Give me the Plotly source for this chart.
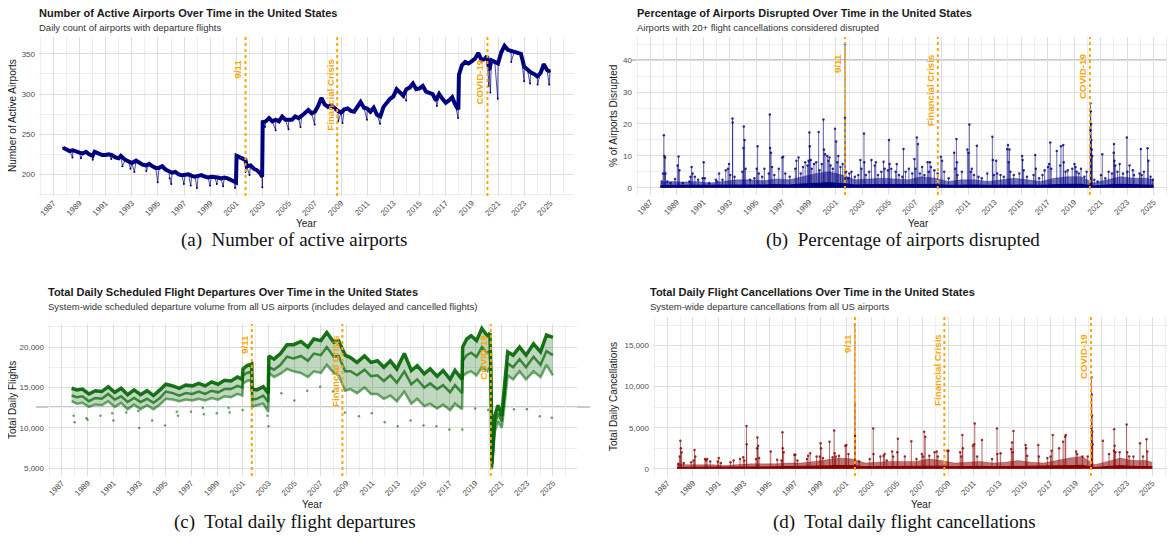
import plotly.graph_objects as go
import pandas as pd

W, H = 1175, 541
OFF = 8                      # default page margin of the browser body
WF, HF = W - OFF, H - OFF    # figure size so that it fills the window

# ---------------- data ----------------
tick_years = list(range(1987, 2026, 2))
event_dates = ["2001-09-11", "2008-09-15", "2020-03-11"]
event_labels = ["9/11", "Financial Crisis", "COVID-19"]

# (a) number of active airports
airport_dates = [
    "1987-10-01",
    "1988-01-01", "1988-04-01", "1988-07-01", "1988-10-01",
    "1989-01-01", "1989-04-01", "1989-07-01", "1989-10-01",
    "1990-01-01", "1990-03-01", "1990-07-01", "1990-10-01",
    "1991-01-01", "1991-04-01", "1991-07-01", "1991-10-01",
    "1992-01-01", "1992-03-01", "1992-07-01", "1992-10-01",
    "1993-01-01", "1993-05-01", "1993-08-01", "1993-11-01",
    "1994-02-01", "1994-05-01", "1994-08-01", "1994-11-01",
    "1995-02-01", "1995-05-01", "1995-08-01", "1995-11-01",
    "1996-02-01", "1996-05-01", "1996-08-01", "1996-11-01",
    "1997-02-01", "1997-05-01", "1997-08-01", "1997-11-01",
    "1998-02-01", "1998-05-01", "1998-08-01", "1998-11-01",
    "1999-02-01", "1999-05-01", "1999-08-01", "1999-11-01",
    "2000-02-01", "2000-05-01", "2000-08-01", "2000-11-01", "2000-12-20",
    "2001-01-05", "2001-04-01", "2001-07-01", "2001-09-10", "2001-10-15",
    "2002-02-01", "2002-05-01", "2002-08-01", "2002-11-01", "2002-12-20",
    "2003-01-05", "2003-04-01", "2003-07-01", "2003-10-01",
    "2004-01-01", "2004-04-01", "2004-07-01", "2004-10-01",
    "2005-01-01", "2005-04-01", "2005-07-01", "2005-10-01",
    "2006-01-01", "2006-04-01", "2006-07-01", "2006-10-01",
    "2007-01-01", "2007-04-01", "2007-07-01", "2007-10-01",
    "2008-01-01", "2008-04-01", "2008-07-01", "2008-10-01",
    "2009-01-01", "2009-04-01", "2009-07-01", "2009-10-01",
    "2010-01-01", "2010-04-01", "2010-07-01", "2010-10-01",
    "2011-01-01", "2011-04-01", "2011-07-01", "2011-10-01",
    "2012-01-01", "2012-04-01", "2012-07-01", "2012-10-01",
    "2013-01-01", "2013-04-01", "2013-07-01", "2013-10-01",
    "2014-01-01", "2014-04-01", "2014-07-01", "2014-10-01",
    "2015-01-01", "2015-04-01", "2015-07-01", "2015-10-01",
    "2016-01-01", "2016-04-01", "2016-07-01", "2016-10-01",
    "2017-01-01", "2017-04-01", "2017-07-01", "2017-10-01", "2017-12-20",
    "2018-01-05", "2018-04-01", "2018-07-01", "2018-10-01",
    "2019-01-01", "2019-04-01", "2019-07-01", "2019-10-01",
    "2020-01-01", "2020-03-01", "2020-05-01", "2020-07-01", "2020-10-01",
    "2021-01-01", "2021-04-01", "2021-07-01", "2021-10-01",
    "2022-01-01", "2022-04-01", "2022-07-01", "2022-10-01",
    "2023-01-01", "2023-04-01", "2023-07-01", "2023-10-01",
    "2024-01-01", "2024-04-01", "2024-07-01", "2024-10-01", "2024-12-20",
]
airport_counts = [
    233,
    231, 229, 230, 228,
    227, 226, 228, 225,
    223, 228, 226, 224,
    224, 225, 224, 221,
    220, 223, 218, 216,
    214, 217, 214, 212,
    211, 213, 210, 208,
    208, 210, 206, 204,
    202, 203, 200, 199,
    199, 200, 198, 197,
    198, 199, 197, 196,
    197, 197, 196, 195,
    196, 195, 193, 191, 190,
    223, 221, 219, 218, 210,
    211, 207, 205, 201, 197,
    265, 266, 270, 266,
    268, 266, 272, 268,
    268, 268, 272, 270,
    273, 276, 280, 276,
    278, 285, 295, 287,
    284, 286, 282, 279,
    277, 281, 282, 279,
    278, 284, 290, 283,
    282, 278, 283, 274,
    272, 284, 290, 294,
    297, 306, 302, 298,
    306, 308, 313, 306,
    307, 310, 303, 301,
    300, 292, 300, 294,
    289, 292, 296, 286, 281,
    324, 336, 340, 338,
    341, 344, 351, 342,
    344, 347, 330, 342, 340,
    338, 352, 360, 355,
    354, 353, 352, 350,
    334, 330, 327, 325,
    322, 326, 337, 330, 328,
]
airport_dip_dates = [
    "1988-06-20", "1989-02-10", "1990-01-05", "1991-06-10", "1992-04-15",
    "1992-11-25", "1993-03-15", "1994-02-10", "1994-12-25", "1995-11-25",
    "1996-01-08", "1996-12-25", "1997-07-04", "1997-12-25", "1998-12-25",
    "1999-07-04", "1999-12-25", "2000-11-23", "2001-09-14", "2002-01-01",
    "2002-12-25", "2003-03-10", "2004-01-01", "2004-12-25", "2005-11-24",
    "2006-12-25", "2008-10-15", "2009-02-10", "2010-12-25", "2011-12-25",
    "2013-12-25", "2016-05-01", "2017-12-12", "2020-04-15", "2020-06-01",
    "2020-12-25", "2022-01-05", "2023-01-01", "2023-06-15", "2024-01-10",
    "2024-11-28",
]
airport_dip_values = [
    221, 220, 218, 219, 210,
    207, 203, 204, 190, 195,
    188, 188, 186, 183, 186,
    188, 185, 183, 203, 199,
    184, 259, 255, 256, 259,
    262, 266, 264, 268, 263,
    292, 285, 270, 310, 302,
    294, 340, 316, 313, 312,
    312,
]

# (b) percentage of airports disrupted
band_dates = ["1987-10-01"] + [f"{y}-07-01" for y in range(1988, 2025)] + ["2024-12-31"]
disrupt_band_solid = [0.6, 0.8, 0.8, 0.8, 0.7, 0.8, 0.9, 0.9, 0.9, 1.0, 0.9, 1.2, 1.5,
                      1.6, 1.3, 0.9, 1.0, 1.0, 1.0, 0.9, 1.1, 1.0, 0.8, 0.9, 0.9, 0.8,
                      0.9, 1.0, 0.9, 0.8, 1.0, 1.1, 1.1, 0.6, 0.9, 1.1, 1.0, 1.0, 0.8]
disrupt_band_upper = [1.5, 2.0, 1.8, 2.0, 1.5, 2.0, 2.5, 2.5, 2.2, 2.8, 2.5, 3.5, 4.5,
                      5.0, 4.0, 2.5, 2.8, 3.0, 2.8, 2.5, 3.5, 3.0, 2.0, 2.5, 2.5, 2.0,
                      2.5, 3.0, 2.5, 2.0, 3.0, 3.5, 3.5, 1.5, 2.5, 3.5, 3.0, 3.0, 2.5]
disrupt_spike_dates = [
    "1987-11-10", "1987-12-15",
    "1988-01-07", "1988-01-20", "1988-02-10", "1988-02-20", "1988-04-10", "1988-07-10", "1988-11-10",
    "1989-01-20", "1989-02-15", "1989-03-10", "1989-06-10", "1989-12-10",
    "1990-01-10", "1990-02-10", "1990-03-10", "1990-05-10", "1990-08-10", "1990-12-10",
    "1991-01-10", "1991-02-10", "1991-06-10", "1991-12-10",
    "1992-01-10", "1992-03-10", "1992-06-10", "1992-09-10", "1992-11-10", "1992-12-10",
    "1993-01-10", "1993-03-13", "1993-03-20", "1993-05-10", "1993-12-10",
    "1994-01-10", "1994-01-20", "1994-02-10", "1994-03-10", "1994-07-10", "1994-11-10",
    "1995-01-10", "1995-02-05", "1995-03-10", "1995-06-10", "1995-08-10", "1995-12-10",
    "1996-01-07", "1996-01-15", "1996-02-10", "1996-03-10", "1996-05-10", "1996-09-10", "1996-12-10",
    "1997-01-10", "1997-03-10", "1997-07-10", "1997-12-10",
    "1998-01-10", "1998-03-10", "1998-05-10", "1998-07-10", "1998-09-10", "1998-11-10", "1998-12-10",
    "1999-01-03", "1999-01-14", "1999-02-10", "1999-03-10", "1999-05-10", "1999-07-10", "1999-09-15", "1999-10-10", "1999-12-10",
    "2000-01-25", "2000-02-10", "2000-03-10", "2000-05-10", "2000-06-10", "2000-07-10", "2000-08-10", "2000-10-10", "2000-12-10",
    "2001-01-10", "2001-02-10", "2001-03-10", "2001-05-10", "2001-07-10", "2001-09-11", "2001-09-13", "2001-10-10", "2001-12-10",
    "2002-01-10", "2002-03-10", "2002-06-10", "2002-09-10", "2002-11-10", "2002-12-10",
    "2003-02-17", "2003-02-25", "2003-04-10", "2003-07-10", "2003-09-10", "2003-12-10",
    "2004-01-10", "2004-03-10", "2004-06-10", "2004-08-10", "2004-09-10", "2004-12-10",
    "2005-01-05", "2005-01-23", "2005-03-10", "2005-07-10", "2005-08-10", "2005-10-10",
    "2006-01-10", "2006-02-12", "2006-04-10", "2006-07-10", "2006-10-10", "2006-12-10",
    "2007-01-10", "2007-02-14", "2007-03-16", "2007-05-10", "2007-07-10", "2007-09-10", "2007-12-10",
    "2008-01-10", "2008-02-10", "2008-03-10", "2008-06-10", "2008-09-10", "2008-12-10",
    "2009-01-10", "2009-03-10", "2009-07-10", "2009-12-10",
    "2010-01-10", "2010-02-10", "2010-02-25", "2010-03-10", "2010-07-10", "2010-12-10",
    "2011-01-12", "2011-02-02", "2011-03-10", "2011-04-10", "2011-06-10", "2011-08-28", "2011-10-10",
    "2012-01-10", "2012-06-10", "2012-10-29", "2012-11-10", "2012-12-10",
    "2013-02-10", "2013-03-10", "2013-06-10", "2013-09-10", "2013-12-10",
    "2014-01-03", "2014-01-22", "2014-02-13", "2014-03-10", "2014-06-10", "2014-11-10",
    "2015-01-27", "2015-02-10", "2015-03-10", "2015-06-10", "2015-12-10",
    "2016-01-23", "2016-02-10", "2016-05-10", "2016-08-10", "2016-10-10",
    "2017-01-10", "2017-02-10", "2017-03-14", "2017-04-10", "2017-09-10", "2017-12-10",
    "2018-01-04", "2018-03-07", "2018-03-21", "2018-05-10", "2018-07-10", "2018-11-10",
    "2019-01-10", "2019-02-10", "2019-03-10", "2019-05-10", "2019-07-10", "2019-10-10", "2019-12-10",
    "2020-03-20", "2020-03-28", "2020-04-05", "2020-04-12", "2020-04-20", "2020-05-01", "2020-05-15", "2020-07-10", "2020-10-10",
    "2021-01-10", "2021-02-16", "2021-05-10", "2021-08-10", "2021-11-10", "2021-12-27",
    "2022-01-05", "2022-01-17", "2022-02-10", "2022-04-10", "2022-06-10", "2022-09-10", "2022-12-26",
    "2023-01-10", "2023-03-10", "2023-06-10", "2023-07-10", "2023-12-10",
    "2024-01-15", "2024-02-10", "2024-04-10", "2024-07-19", "2024-08-10", "2024-10-10", "2024-12-10",
]
disrupt_spike_values = [
    2.0, 4.5,
    16.5, 10.0, 9.5, 4.5, 2.0, 1.5, 2.8,
    7.0, 9.8, 5.5, 1.5, 2.0,
    3.5, 6.5, 4.5, 3.5, 2.5, 3.0,
    8.0, 3.0, 1.5, 2.5,
    2.0, 4.5, 2.5, 5.5, 6.0, 7.5,
    4.0, 21.7, 20.5, 3.5, 5.0,
    12.5, 19.2, 15.0, 6.0, 2.5, 3.0,
    6.0, 13.0, 4.5, 3.5, 6.0, 4.5,
    23.0, 12.5, 11.0, 6.5, 4.0, 6.0, 9.5,
    9.7, 4.5, 3.5, 6.0,
    8.5, 9.5, 4.5, 6.5, 8.0, 7.0, 8.5,
    17.3, 13.0, 8.7, 6.0, 7.5, 8.0, 17.5, 5.5, 7.5,
    21.4, 12.0, 10.5, 10.0, 8.5, 9.5, 7.0, 6.0, 18.5,
    14.5, 8.0, 10.0, 6.5, 7.5, 45.0, 22.0, 5.0, 3.0,
    4.5, 5.0, 3.5, 4.0, 8.7, 6.0,
    17.0, 8.0, 4.0, 5.0, 8.7, 7.0,
    8.0, 4.0, 5.0, 8.2, 6.0, 5.5,
    15.0, 7.5, 6.0, 5.0, 7.5, 4.0,
    3.5, 12.2, 5.0, 6.0, 4.5, 9.0,
    6.0, 15.8, 13.7, 4.5, 6.5, 4.0, 8.0,
    5.0, 8.0, 6.5, 5.5, 4.5, 9.7,
    8.5, 5.0, 3.0, 11.0,
    6.0, 15.3, 8.0, 4.0, 5.0, 12.0,
    11.0, 19.8, 5.0, 6.0, 4.0, 13.2, 3.5,
    3.0, 4.5, 16.0, 8.7, 4.0,
    8.5, 4.5, 4.0, 3.5, 12.2,
    13.4, 8.0, 12.0, 5.0, 4.0, 4.5,
    10.0, 8.7, 5.5, 3.5, 4.0,
    10.3, 6.0, 3.0, 4.0, 5.5,
    6.5, 7.5, 14.2, 6.0, 11.5, 7.0,
    13.0, 13.4, 8.0, 5.0, 5.5, 6.0,
    7.5, 6.5, 5.0, 4.5, 6.0, 3.5, 5.0,
    18.0, 26.5, 24.0, 20.0, 15.0, 12.0, 10.0, 2.5, 2.0,
    4.0, 10.5, 3.0, 5.0, 4.5, 11.0,
    13.7, 8.5, 7.0, 5.0, 7.5, 4.5, 15.8,
    5.0, 7.0, 5.5, 4.0, 4.5,
    12.2, 4.0, 5.0, 12.4, 8.5, 3.5, 2.5,
]

# (c) total daily scheduled departures: weekday band, mid band, weekend band
dep_dates = [
    "1987-10-01", "1988-03-01", "1988-08-01", "1989-02-01", "1989-08-01",
    "1990-02-01", "1990-08-01", "1991-02-01", "1991-08-01", "1992-02-01",
    "1992-08-01", "1993-02-01", "1993-08-01", "1994-02-01", "1994-08-01",
    "1995-01-15", "1995-08-01", "1996-02-01", "1996-08-01", "1997-02-01",
    "1997-08-01", "1998-02-01", "1998-08-01", "1999-02-01", "1999-08-01",
    "2000-02-01", "2000-08-01", "2000-12-15", "2001-01-05", "2001-05-01",
    "2001-09-10", "2001-09-20", "2002-02-01", "2002-08-01", "2002-12-20",
    "2003-01-05", "2003-06-01", "2003-12-01", "2004-06-01", "2004-12-01",
    "2005-07-01", "2006-01-15", "2006-07-01", "2007-01-15", "2007-07-01",
    "2008-01-15", "2008-06-01", "2008-12-01", "2009-05-01", "2009-11-01",
    "2010-06-01", "2010-12-01", "2011-06-01", "2011-12-01", "2012-06-01",
    "2012-12-01", "2013-07-01", "2014-01-15", "2014-07-01", "2015-01-15",
    "2015-07-01", "2016-01-15", "2016-07-01", "2017-01-15", "2017-06-01",
    "2017-12-20", "2018-01-05", "2018-05-01", "2018-09-01", "2019-02-01",
    "2019-07-01", "2019-12-01", "2020-02-15", "2020-03-15", "2020-04-10",
    "2020-05-10", "2020-07-01", "2020-10-01", "2021-01-15", "2021-04-01",
    "2021-07-01", "2021-12-01", "2022-06-01", "2022-12-01", "2023-07-01",
    "2024-01-15", "2024-07-01", "2024-12-31",
]
dep_weekday = [
    14900, 14700, 14800, 14200, 14600,
    14500, 15100, 14400, 14900, 14100,
    14700, 14100, 14600, 14000, 14700,
    15400, 15200, 14900, 15300, 15200,
    15500, 15200, 15700, 15400, 15900,
    15800, 16300, 16000, 17300, 17700,
    17900, 14800, 14700, 15100, 14300,
    18900, 18500, 19200, 20300, 20300,
    20700, 20000, 21000, 20800, 21800,
    20600, 20800, 19000, 18700, 18100,
    18900, 18100, 18300, 17500, 18300,
    17300, 19200, 17100, 17700, 16700,
    17300, 16400, 17100, 16000, 17100,
    16000, 20000, 21000, 21400, 20800,
    22300, 21400, 21700, 17000, 5500,
    7800, 11500, 12800, 11500, 15200,
    19400, 19000, 20000, 19000, 20400,
    19400, 21500, 21200,
]
dep_mid = [
    14000, 13800, 13900, 13300, 13700,
    13600, 14200, 13500, 13900, 13200,
    13700, 13200, 13600, 13100, 13700,
    14500, 14300, 14000, 14300, 14200,
    14500, 14200, 14600, 14400, 14800,
    14800, 15200, 15000, 16500, 16800,
    17000, 13500, 13600, 14000, 13200,
    17500, 17200, 17800, 18800, 18600,
    18900, 18300, 19200, 19000, 20000,
    18800, 18900, 17000, 17000, 16500,
    17200, 16400, 16500, 15800, 16500,
    15600, 17000, 15400, 16000, 15000,
    15500, 14800, 15300, 14400, 15300,
    14300, 18300, 19000, 19300, 18800,
    20000, 19300, 19500, 15000, 5000,
    7000, 10500, 11800, 10800, 14000,
    18000, 17500, 18500, 17500, 18800,
    17800, 19500, 19000,
]
dep_weekend = [
    13300, 13000, 13100, 12600, 12900,
    12800, 13300, 12600, 13100, 12300,
    12900, 12300, 12800, 12300, 12900,
    13600, 13500, 13300, 13500, 13400,
    13600, 13400, 13700, 13500, 13900,
    13800, 14200, 14000, 15500, 15800,
    16000, 12600, 12800, 13000, 12000,
    16800, 16300, 16700, 17300, 17000,
    16800, 16300, 17000, 16800, 17800,
    16800, 16500, 14600, 14800, 14300,
    15000, 14200, 14200, 13600, 14000,
    13300, 14500, 13000, 13600, 12700,
    13000, 12400, 12900, 12200, 13000,
    12300, 16400, 16800, 17000, 16500,
    17500, 17000, 17500, 13000, 4900,
    6500, 9500, 10800, 10000, 12800,
    16500, 16000, 17000, 16000, 17000,
    16300, 17800, 16500,
]
dep_outlier_dates = [
    "1987-11-26", "1987-12-25", "1988-11-24", "1988-12-25", "1989-12-25",
    "1990-11-22", "1990-12-25", "1991-12-25", "1992-11-26", "1992-12-25",
    "1993-12-25", "1994-12-25", "1995-11-23", "1995-12-25", "1996-12-25",
    "1997-11-27", "1997-12-25", "1998-12-25", "1999-11-25", "1999-12-25",
    "2000-12-25", "2001-09-12", "2001-09-14", "2002-11-28", "2002-12-25",
    "2003-12-25", "2004-12-25", "2005-12-25", "2006-12-25", "2007-12-25",
    "2008-11-27", "2009-12-25", "2010-12-25", "2011-12-25", "2012-12-25",
    "2013-12-25", "2014-12-25", "2015-12-25", "2016-12-25", "2017-12-25",
    "2018-12-25", "2019-12-25", "2021-12-25", "2022-12-25", "2023-12-25",
    "2024-11-28",
]
dep_outlier_values = [
    11500, 10700, 11200, 11000, 11500,
    11800, 10900, 11900, 12100, 10000,
    10900, 10300, 12000, 11500, 12000,
    12500, 11700, 11800, 12500, 11900,
    12200, 10200, 11000, 11500, 10200,
    14300, 13400, 14600, 15100, 14500,
    11900, 11450, 11800, 10700, 10200,
    10900, 10300, 10200, 9800, 9800,
    12400, 12200, 12300, 12300, 11450,
    11250,
]

# (d) total daily cancellations
cancel_band_solid = [150, 200, 200, 200, 180, 200, 220, 220, 230, 250, 250, 300, 350,
                     400, 380, 260, 280, 300, 300, 300, 350, 320, 250, 280, 300, 250,
                     270, 300, 270, 250, 300, 380, 420, 150, 280, 380, 300, 300, 250]
cancel_band_upper = [600, 500, 500, 500, 400, 500, 600, 600, 600, 700, 700, 900, 1100,
                     1300, 1200, 700, 800, 900, 900, 900, 1200, 1000, 700, 800, 900, 700,
                     800, 1000, 800, 700, 1000, 1300, 1500, 500, 900, 1300, 1000, 1000, 800]
cancel_spike_dates = [
    "1987-11-10", "1987-12-15",
    "1988-01-07", "1988-01-20", "1988-02-10", "1988-04-10", "1988-11-10",
    "1989-01-20", "1989-02-15", "1989-03-10", "1989-12-10",
    "1990-01-10", "1990-02-10", "1990-05-10", "1990-12-10",
    "1991-01-10", "1991-03-10", "1991-12-10",
    "1992-03-10", "1992-09-10", "1992-12-10",
    "1993-01-10", "1993-03-13", "1993-03-20", "1993-12-10",
    "1994-01-10", "1994-01-20", "1994-02-10", "1994-03-10",
    "1995-02-05", "1995-08-10", "1995-12-10",
    "1996-01-07", "1996-01-15", "1996-02-10", "1996-12-10",
    "1997-01-10", "1997-03-10", "1997-12-10",
    "1998-01-10", "1998-03-10", "1998-09-10", "1998-12-10",
    "1999-01-03", "1999-01-14", "1999-03-10", "1999-09-15", "1999-12-10",
    "2000-01-25", "2000-02-10", "2000-03-10", "2000-06-10", "2000-12-10",
    "2001-01-10", "2001-03-10", "2001-09-11", "2001-09-13", "2001-09-15",
    "2002-01-10", "2002-11-10",
    "2003-02-17", "2003-02-25", "2003-09-10", "2003-12-10",
    "2004-01-10", "2004-03-10", "2004-08-10", "2004-09-10",
    "2005-01-05", "2005-01-23", "2005-08-10",
    "2006-02-12", "2006-07-10", "2006-12-10",
    "2007-01-10", "2007-02-14", "2007-03-16", "2007-07-10", "2007-12-10",
    "2008-02-10", "2008-03-10", "2008-12-10",
    "2009-01-10", "2009-12-10",
    "2010-01-10", "2010-02-10", "2010-02-25", "2010-12-10",
    "2011-01-12", "2011-02-02", "2011-04-10", "2011-08-28",
    "2012-06-10", "2012-10-29", "2012-11-10",
    "2013-02-10", "2013-12-10",
    "2014-01-03", "2014-01-22", "2014-02-13",
    "2015-01-27", "2015-02-10", "2015-03-10",
    "2016-01-23", "2016-02-10", "2016-10-10",
    "2017-01-10", "2017-02-10", "2017-03-14", "2017-09-10",
    "2018-01-04", "2018-03-02", "2018-03-21",
    "2019-01-10", "2019-02-10", "2019-07-10", "2019-12-10",
    "2020-03-20", "2020-03-28", "2020-04-05", "2020-04-12", "2020-04-20", "2020-05-01",
    "2021-02-16", "2021-08-10", "2021-12-27",
    "2022-01-05", "2022-01-17", "2022-02-10", "2022-06-10", "2022-12-26",
    "2023-01-10", "2023-03-10", "2023-07-10",
    "2024-01-15", "2024-04-10", "2024-07-19", "2024-08-10",
]
cancel_spike_values = [
    600, 1500,
    3400, 2500, 2000, 700, 800,
    1000, 2300, 1500, 1200,
    1000, 1200, 900, 900,
    1300, 700, 800,
    1000, 1200, 1400,
    1000, 5200, 3000, 1200,
    2500, 3800, 2800, 1300,
    2100, 1100, 1000,
    4450, 2500, 2000, 1700,
    1700, 1000, 1200,
    1600, 1900, 1500, 1500,
    3100, 2500, 1300, 3300, 1400,
    4650, 1900, 1500, 1600, 2800,
    2900, 1800, 17500, 8000, 4000,
    900, 1200,
    4900, 1800, 1500, 1600,
    1800, 1000, 2100, 1500,
    2000, 3650, 1500,
    3350, 1200, 1800,
    1500, 4500, 3900, 1600, 2000,
    2100, 1500, 2200,
    2200, 2000,
    1500, 4100, 2500, 2800,
    3000, 5500, 1500, 3500,
    1200, 4900, 1800,
    1900, 2400,
    3200, 2000, 4600,
    2900, 2500, 1600,
    2900, 1500, 1300,
    1500, 2200, 4100, 2500,
    3300, 3900, 4100,
    2100, 1800, 1500, 1500,
    5000, 11100, 9000, 6500, 4500, 3000,
    3400, 1800, 2200,
    4800, 2800, 2000, 2000, 5400,
    2000, 1500, 1500,
    3100, 1500, 3600, 2100,
]

# ---------------- layout geometry (window pixels) ----------------
panels = {
    "a": dict(x0=39, x1=574, y0=37, y1=196, xr=(1985.907, 2026.81), yr=(173, 371)),
    "b": dict(x0=636, x1=1175, y0=37, y1=195, xr=(1985.91, 2026.62), yr=(-2.25, 47.25)),
    "c": dict(x0=48, x1=577, y0=324, y1=476, xr=(1985.92, 2026.86), yr=(4045, 22855)),
    "d": dict(x0=653, x1=1175, y0=317, y1=476, xr=(1985.87, 2026.78), yr=(-880, 18480)),
}


def px(x):
    return (x - OFF) / WF


def py(y):
    return 1 - (y - OFF) / HF


def dec_date(y):
    base = pd.Timestamp(int(y), 1, 1)
    return (base + pd.Timedelta(days=(y - int(y)) * 365.25)).strftime("%Y-%m-%d")


def spikes(dates, values):
    xs, ys = [], []
    for d, v in zip(dates, values):
        xs += [d, d, None]
        ys += [0, v, None]
    return xs, ys


fig = go.Figure()
NAVY, GREEN, RED = "#000080", "#006400", "#8B0000"

# (a)
fig.add_trace(go.Scatter(x=airport_dates, y=airport_counts, mode="lines",
                         line=dict(color=NAVY, width=4), xaxis="x", yaxis="y",
                         showlegend=False, hoverinfo="skip"))
merged = sorted(list(zip(airport_dates, airport_counts)) + list(zip(airport_dip_dates, airport_dip_values)))
fig.add_trace(go.Scatter(x=[m[0] for m in merged], y=[m[1] for m in merged], mode="lines+markers",
                         line=dict(color="rgba(0,0,128,0.7)", width=1), marker=dict(size=2, color=NAVY),
                         xaxis="x", yaxis="y", showlegend=False))

# (b)
fig.add_trace(go.Scatter(x=band_dates, y=disrupt_band_upper, mode="lines", fill="tozeroy",
                         fillcolor="rgba(0,0,128,0.55)", line=dict(width=0.5, color="rgba(0,0,128,0.6)"),
                         xaxis="x2", yaxis="y2", showlegend=False))
fig.add_trace(go.Scatter(x=band_dates, y=disrupt_band_solid, mode="lines", fill="tozeroy",
                         fillcolor=NAVY, line=dict(width=1, color=NAVY),
                         xaxis="x2", yaxis="y2", showlegend=False))
sx, sy = spikes(disrupt_spike_dates, disrupt_spike_values)
fig.add_trace(go.Scatter(x=sx, y=sy, mode="lines", line=dict(color="rgba(0,0,128,0.6)", width=1),
                         xaxis="x2", yaxis="y2", showlegend=False))
fig.add_trace(go.Scatter(x=disrupt_spike_dates, y=disrupt_spike_values, mode="markers",
                         marker=dict(size=2.5, color=NAVY, opacity=0.8),
                         xaxis="x2", yaxis="y2", showlegend=False))

# (c)
fig.add_trace(go.Scatter(x=dep_dates, y=dep_weekend, mode="lines", line=dict(color="rgba(0,100,0,0.55)", width=2.5),
                         xaxis="x3", yaxis="y3", showlegend=False))
fig.add_trace(go.Scatter(x=dep_dates, y=dep_weekday, mode="lines", line=dict(color="rgba(0,100,0,0.9)", width=3.5),
                         fill="tonexty", fillcolor="rgba(0,100,0,0.25)",
                         xaxis="x3", yaxis="y3", showlegend=False))
fig.add_trace(go.Scatter(x=dep_dates, y=dep_mid, mode="lines", line=dict(color="rgba(0,100,0,0.7)", width=2.5),
                         xaxis="x3", yaxis="y3", showlegend=False))
fig.add_trace(go.Scatter(x=dep_outlier_dates, y=dep_outlier_values, mode="markers",
                         marker=dict(size=2.5, color=GREEN, opacity=0.6),
                         xaxis="x3", yaxis="y3", showlegend=False))

# (d)
fig.add_trace(go.Scatter(x=band_dates, y=cancel_band_upper, mode="lines", fill="tozeroy",
                         fillcolor="rgba(139,0,0,0.55)", line=dict(width=0.5, color="rgba(139,0,0,0.6)"),
                         xaxis="x4", yaxis="y4", showlegend=False))
fig.add_trace(go.Scatter(x=band_dates, y=cancel_band_solid, mode="lines", fill="tozeroy",
                         fillcolor=RED, line=dict(width=1, color=RED),
                         xaxis="x4", yaxis="y4", showlegend=False))
sx, sy = spikes(cancel_spike_dates, cancel_spike_values)
fig.add_trace(go.Scatter(x=sx, y=sy, mode="lines", line=dict(color="rgba(139,0,0,0.6)", width=1),
                         xaxis="x4", yaxis="y4", showlegend=False))
fig.add_trace(go.Scatter(x=cancel_spike_dates, y=cancel_spike_values, mode="markers",
                         marker=dict(size=2.5, color=RED, opacity=0.8),
                         xaxis="x4", yaxis="y4", showlegend=False))

# ---------------- axes ----------------
y_ticks = {
    "a": ([200, 250, 300, 350], ["200", "250", "300", "350"], [175, 225, 275, 325]),
    "b": ([0, 10, 20, 30, 40], ["0", "10", "20", "30", "40"], [5, 15, 25, 35, 45]),
    "c": ([5000, 10000, 15000, 20000], ["5,000", "10,000", "15,000", "20,000"], [7500, 12500, 17500, 22500]),
    "d": ([0, 5000, 10000, 15000], ["0", "5,000", "10,000", "15,000"], [2500, 7500, 12500, 17500]),
}
SANS = "Liberation Sans, Arial, sans-serif"
TICKFONT = dict(family=SANS, size=8, color="#4D4D4D")
layout = {}
for i, key in enumerate(["a", "b", "c", "d"]):
    p = panels[key]
    sfx = "" if i == 0 else str(i + 1)
    layout["xaxis" + sfx] = dict(
        type="date", domain=[max(0, px(p["x0"])), min(1, px(p["x1"]))],
        range=[dec_date(p["xr"][0]), dec_date(p["xr"][1])],
        anchor="y" + sfx, tickmode="array",
        tickvals=[f"{y}-01-01" for y in tick_years], ticktext=[str(y) for y in tick_years],
        tickangle=-45, tickfont=TICKFONT, showgrid=True, gridcolor="#DEDEDE", gridwidth=1,
        minor=dict(tickmode="array", tickvals=[f"{y}-01-01" for y in range(1986, 2027, 2)],
                   showgrid=True, gridcolor="#EDEDED", gridwidth=0.8),
        zeroline=False, showline=False, ticks="", fixedrange=True,
    )
    tv, tt, mv = y_ticks[key]
    layout["yaxis" + sfx] = dict(
        domain=[py(p["y1"]), py(p["y0"])], range=list(p["yr"]),
        anchor="x" + sfx, tickmode="array", tickvals=tv, ticktext=tt, tickfont=TICKFONT,
        showgrid=True, gridcolor="#DEDEDE", gridwidth=1,
        minor=dict(tickmode="array", tickvals=mv, showgrid=True, gridcolor="#EDEDED", gridwidth=0.8),
        zeroline=False, showline=False, ticks="", ticklabelstandoff=3,
    )

shapes = []
annotations = []
label_tops = {"a": 57, "b": 52, "c": 333, "d": 332}
for i, key in enumerate(["a", "b", "c", "d"]):
    p = panels[key]
    sfx = "" if i == 0 else str(i + 1)
    for d, lab in zip(event_dates, event_labels):
        shapes.append(dict(type="line", xref="x" + sfx, yref="paper", x0=d, x1=d,
                           y0=py(p["y1"]), y1=py(p["y0"]),
                           line=dict(color="orange", width=2, dash="dot"), layer="above"))
        annotations.append(dict(text=lab, x=d, xref="x" + sfx, y=py(label_tops[key]), yref="paper",
                                xanchor="right", yanchor="top", textangle=-90, showarrow=False,
                                font=dict(family=SANS, size=9.7, color="orange", weight="bold")))

# darker horizontal rules visible in the reference
shapes.append(dict(type="line", xref="paper", yref="paper", x0=px(632), x1=1.0, y0=py(60), y1=py(60),
                   line=dict(color="#C9C9C9", width=2), layer="below"))
shapes.append(dict(type="line", xref="paper", yref="paper", x0=px(36), x1=px(590), y0=py(407), y1=py(407),
                   line=dict(color="#C9C9C9", width=2), layer="below"))


def txt(text, x, y, size, color="#000000", bold=False, xanchor="left", angle=0, family=SANS):
    annotations.append(dict(text=text, x=px(x), y=py(y), xref="paper", yref="paper",
                            xanchor=xanchor, yanchor="middle", showarrow=False, textangle=angle,
                            font=dict(family=family, size=size, color=color,
                                      weight="bold" if bold else "normal")))


titles = [
    ("Number of Active Airports Over Time in the United States", "Daily count of airports with departure flights", 37, 13),
    ("Percentage of Airports Disrupted Over Time in the United States", "Airports with 20+ flight cancellations considered disrupted", 635, 13),
    ("Total Daily Scheduled Flight Departures Over Time in the United States",
     "System-wide scheduled departure volume from all US airports (includes delayed and cancelled flights)", 46, 292),
    ("Total Daily Flight Cancellations Over Time in the United States", "System-wide departure cancellations from all US airports", 648, 292),
]
for t, s, x, y in titles:
    txt(t, x, y, 11, "#1A1A1A", bold=True)
    txt(s, x, y + 14.5, 9.5, "#333333")

ytitles = [("Number of Active Airports", 13, 116), ("% of Airports Disrupted", 614, 116),
           ("Total Daily Flights", 12, 400), ("Total Daily Cancellations", 613, 397)]
for t, x, y in ytitles:
    txt(t, x, y, 10, "#1A1A1A", xanchor="center", angle=-90)

for x, y in [(306, 223), (918, 223), (312, 504), (921, 504)]:
    txt("Year", x, y, 10, "#1A1A1A", xanchor="center")

captions = [("(a)  Number of active airports", 294, 240), ("(b)  Percentage of airports disrupted", 903, 240),
            ("(c)  Total daily flight departures", 295, 522), ("(d)  Total daily flight cancellations", 904, 522)]
for t, x, y in captions:
    txt(t, x, y, 19, "#111111", xanchor="center", family="Liberation Serif, Times New Roman, serif")

fig.update_layout(
    width=WF, height=HF, margin=dict(l=0, r=0, t=0, b=0),
    paper_bgcolor="white", plot_bgcolor="white", showlegend=False,
    shapes=shapes, annotations=annotations, **layout,
)

fig.write_html("out.html")
